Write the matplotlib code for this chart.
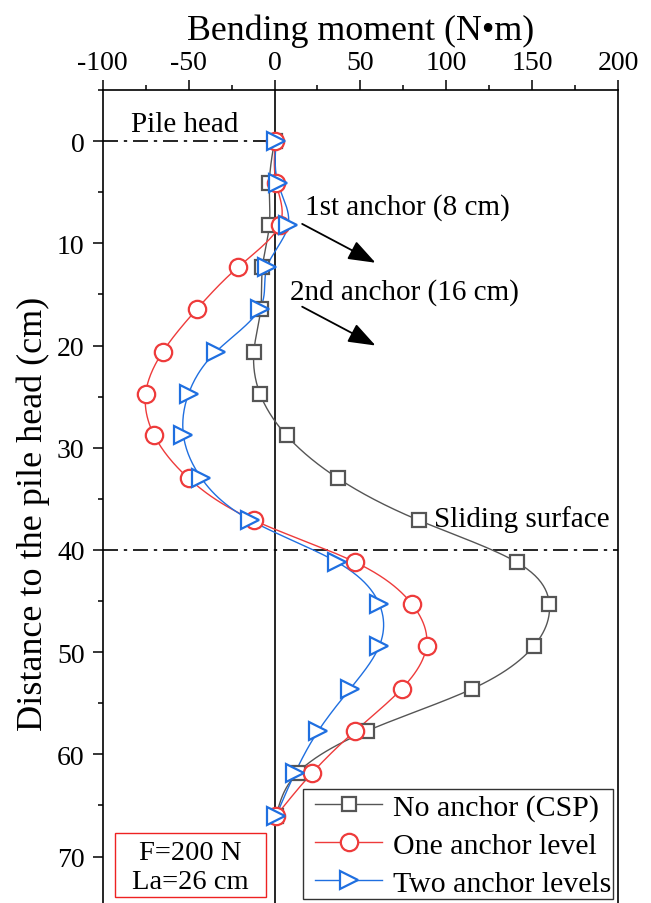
import numpy as np
import matplotlib
matplotlib.use("Agg")
import matplotlib.pyplot as plt
from matplotlib.ticker import MultipleLocator
from matplotlib.patches import Rectangle

# ---------------- data ----------------
depth = [0, 4.1, 8.2, 12.3, 16.4, 20.6, 24.7, 28.8, 33.0, 37.1, 41.2, 45.3, 49.4, 53.6, 57.7, 61.8, 66.0]
no_anchor = [0, -3, -3, -7, -8, -12, -8.5, 7, 37, 84, 141, 160, 151, 115, 54, 13.5, 1]
one_anchor = [0.5, 1, 3, -21, -45, -65, -75, -70, -50, -12, 47, 80, 88.5, 74, 47, 22, 1]
two_anchor = [1, 2, 8, -4.3, -8.6, -34, -50, -53, -42.5, -14, 36.5, 61, 61, 44, 25.5, 12, 1]
series_labels = ["No anchor (CSP)", "One anchor level", "Two anchor levels"]
x_ticks = [-100, -50, 0, 50, 100, 150, 200]
y_ticks = [0, 10, 20, 30, 40, 50, 60, 70]


def natural_spline(x, y, n=400):
    x = np.asarray(x, float)
    y = np.asarray(y, float)
    m = len(x)
    h = np.diff(x)
    A = np.zeros((m, m))
    b = np.zeros(m)
    A[0, 0] = 1
    A[-1, -1] = 1
    for i in range(1, m - 1):
        A[i, i - 1] = h[i - 1]
        A[i, i] = 2 * (h[i - 1] + h[i])
        A[i, i + 1] = h[i]
        b[i] = 6 * ((y[i + 1] - y[i]) / h[i] - (y[i] - y[i - 1]) / h[i - 1])
    M = np.linalg.solve(A, b)
    xs = np.linspace(x[0], x[-1], n)
    idx = np.clip(np.searchsorted(x, xs) - 1, 0, m - 2)
    x0, x1 = x[idx], x[idx + 1]
    hh = x1 - x0
    t0 = x1 - xs
    t1 = xs - x0
    ys = (M[idx] * t0 ** 3 + M[idx + 1] * t1 ** 3) / (6 * hh) \
        + (y[idx] / hh - M[idx] * hh / 6) * t0 + (y[idx + 1] / hh - M[idx + 1] * hh / 6) * t1
    return xs, ys


plt.rcParams['font.family'] = ['Liberation Serif', 'DejaVu Serif']

W, H = 651, 904
fig = plt.figure(figsize=(W / 100, H / 100), dpi=100)
ax = fig.add_axes([0.1578, -0.0051, 0.7916, 0.9044])

ax.set_xlim(-100, 200)
ax.set_ylim(75, -5)

gray = '#555555'
red = '#EE3B3B'
blue = '#1F6FE0'

styles = [
    (no_anchor, gray, 's', 10.5),
    (one_anchor, red, 'o', 12.5),
    (two_anchor, blue, '>', 13),
]

ax.axvline(0, color='black', lw=1.2, zorder=1)

handles = []
for (vals, col, mk, ms), lab in zip(styles, series_labels):
    ys, xs = natural_spline(depth, vals)
    ax.plot(xs, ys, color=col, lw=1.0, zorder=2)
    ax.plot(vals, depth, linestyle='none', marker=mk, ms=ms, mfc='white',
            mec=col, mew=1.6, zorder=3)
    h, = ax.plot([], [], color=col, lw=1.0, marker=mk, ms=ms, mfc='white', mec=col, mew=1.6)
    handles.append(h)

# reference lines
ax.plot([-100, 0], [0, 0], color='black', lw=1.2, linestyle=(0, (9, 3.5, 2, 3.5)), zorder=1)
ax.axhline(40, color='black', lw=1.2, linestyle=(0, (9, 3.5, 2, 3.5)), zorder=1)

# annotations
ax.text(-52, -1.0, 'Pile head', fontsize=21, ha='center', va='baseline')
ax.text(93, 37.7, 'Sliding surface', fontsize=21, ha='left', va='baseline')
ax.text(17.5, 7.1, '1st anchor (8 cm)', fontsize=21, ha='left', va='baseline')
ax.text(9.3, 15.4, '2nd anchor (16 cm)', fontsize=21, ha='left', va='baseline')
for y0, y1 in [(8.1, 11.9), (16.2, 20.0)]:
    ax.annotate('', xy=(58.8, y1), xytext=(16.1, y0),
                arrowprops=dict(arrowstyle='-|>,head_length=0.6,head_width=0.22',
                                color='black', lw=1.3,
                                mutation_scale=28, shrinkA=0, shrinkB=0))

# parameter box
ax.add_patch(Rectangle((-92.6, 67.7), 87.4, 6.3, fill=True, fc='white',
                       ec='#ee2222', lw=1.0, zorder=4))
ax.text(-48.9, 70.25, 'F=200 N', fontsize=20.5, ha='center', va='baseline', zorder=5)
ax.text(-48.9, 73.1, 'La=26 cm', fontsize=20.5, ha='center', va='baseline', zorder=5)

# axes styling
ax.xaxis.set_ticks_position('top')
ax.xaxis.set_label_position('top')
ax.set_xticks(x_ticks)
ax.set_yticks(y_ticks)
ax.xaxis.set_minor_locator(MultipleLocator(25))
ax.yaxis.set_minor_locator(MultipleLocator(5))
ax.tick_params(which='major', direction='out', length=7, width=1.1, labelsize=20, pad=4)
ax.tick_params(which='minor', direction='out', length=3.5, width=1.1)
ax.tick_params(axis='y', which='major', pad=6)
ax.set_xticklabels([str(v) for v in x_ticks])
for sp in ['top', 'left', 'right']:
    ax.spines[sp].set_linewidth(1.2)
ax.spines['bottom'].set_visible(False)

ax.set_xlabel('Bending moment (N\u2022m)', fontsize=25.8, labelpad=8)
fig.text(33.5 / W, 1 - 514 / H, 'Distance to the pile head (cm)', fontsize=26,
         rotation=90, ha='center', va='center')

# legend frame drawn explicitly, legend content placed inside
ax.add_patch(Rectangle((303 / W, 1 - 900 / H), 310 / W, 110 / H,
                       transform=fig.transFigure, fc='white', ec='#333333',
                       lw=1.0, zorder=6, clip_on=False))
leg = ax.legend(handles, series_labels, loc='upper left',
                bbox_to_anchor=(315 / W, 1 - 795 / H), bbox_transform=fig.transFigure,
                fontsize=21.5, frameon=False, borderaxespad=0, handlelength=2.25,
                handletextpad=0.35, labelspacing=0.36, borderpad=0)
leg.set_zorder(7)

fig.savefig('out.png', dpi=100)
